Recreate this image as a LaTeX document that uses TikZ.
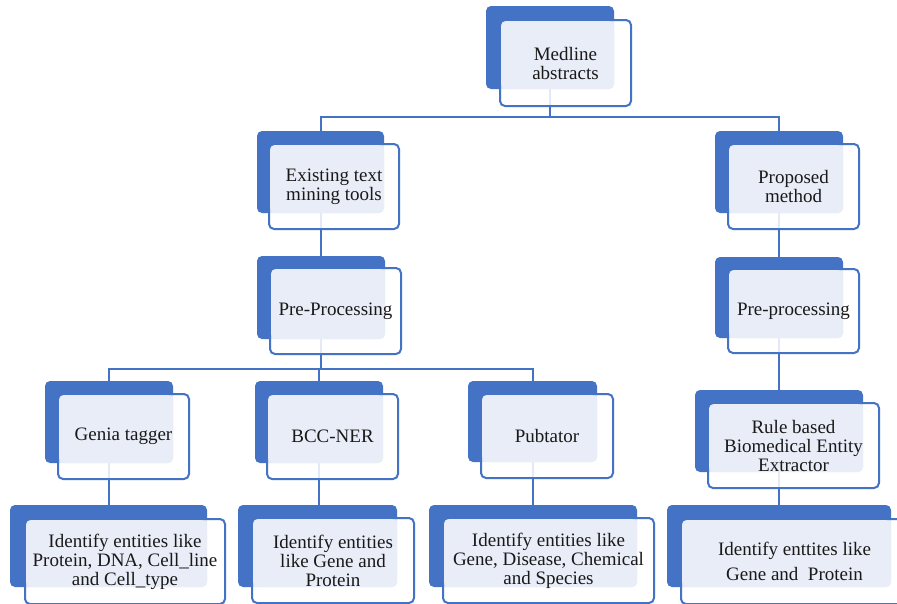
\documentclass[tikz,border=0pt]{standalone}
\usepackage{fontspec}
\setmainfont{Liberation Serif}
\newfontfamily\tnr{Liberation Serif}
\usetikzlibrary{backgrounds}
\definecolor{ablue}{HTML}{4472C4}
\definecolor{alight}{HTML}{E9EDF7}
\tikzset{
  backbox/.style={fill=ablue, rounded corners=5pt, inner sep=0pt, outer sep=0pt, draw=none},
  frontbox/.style={fill=white, fill opacity=.85, draw=ablue, draw opacity=1, line width=2pt, rounded corners=5pt, inner sep=0pt, outer sep=0pt},
  lightfill/.style={fill=alight},
  txt/.style={font=\tnr\fontsize{19}{19}\selectfont, align=center, inner sep=0pt, text=black!90},
  conn/.style={draw=ablue, line width=2pt},
}
% name, back NW x, back NW y, width, height, text, dx, dy
\newcommand\twinbox[8]{%
  \node[backbox, minimum width=#4pt, minimum height=#5pt, anchor=north west] (#1B) at (#2,#3) {};
  \node[frontbox, minimum width={#4pt+3pt}, minimum height={#5pt+3pt}, anchor=north west] (#1) at ([shift={(#7,#8)}]#1B.north west) {};
  \fill[lightfill, rounded corners=5pt] ([shift={(1.2,1.2)}]#1.north west) rectangle (#1B.south east);
  \node[txt] (#1T) at (#1.center) {#6};
}
\begin{document}
\begin{tikzpicture}[x=1pt, y=-1pt]
  \useasboundingbox (0,0) rectangle (897,603);
  \clip (0,0) rectangle (897,603);
  \twinbox{med}{486}{6}{128}{83}{Medline\\abstracts}{14}{14}
  \twinbox{exist}{257}{131}{127}{82}{Existing text\\mining tools}{12}{13}
  \twinbox{prop}{715}{131}{128}{82}{Proposed\\method}{13}{13}
  \twinbox{preA}{257}{256}{128}{83}{Pre-Processing}{13}{12}
  \twinbox{preB}{715}{257}{128}{81}{Pre-processing}{13}{12}
  \twinbox{genia}{45}{381}{128}{82}{Genia tagger}{13}{13}
  \twinbox{bcc}{255}{381}{128}{82}{BCC-NER}{12}{13}
  \twinbox{pub}{468}{381}{129}{81}{Pubtator}{13}{13}
  \twinbox{rule}{695}{390}{168}{82}{Rule based\\Biomedical Entity\\Extractor}{13}{13}
  \twinbox{ra}{10}{505}{197}{82}{Identify entities like\\Protein, DNA, Cell\_line\\and Cell\_type}{15}{14}
  \twinbox{rb}{238}{505}{159}{82}{Identify entities\\like Gene and\\Protein}{14}{13}
  \twinbox{rc}{429}{505}{208}{82}{Identify entities like\\Gene, Disease, Chemical\\and Species}{14}{13}
  \twinbox{rd}{667}{505}{224}{82}{Identify enttites like\\[6pt]Gene and\ \ Protein}{14}{14}
  \coordinate (j1) at (0,117);
  \coordinate (j2) at (0,369);
  \begin{scope}[on background layer]
    \fill[white] (0,0) rectangle (897,603);
    \draw[conn] (medB.center) -- (medB.center |- j1);
    \draw[conn] (existB.center) |- (medB.center |- j1) -| (propB.center);
    \draw[conn] (existB.center) -- (existB.center |- preAB.center);
    \draw[conn] (propB.center) -- (propB.center |- preBB.center);
    \draw[conn] (preBB.center) -- (preBB.center |- ruleB.center);
    \draw[conn] (preAB.center) -- (preAB.center |- j2);
    \draw[conn] (geniaB.center) |- (preAB.center |- j2) -| (pubB.center);
    \draw[conn] (bccB.center) -- (bccB.center |- j2);
    \draw[conn] (geniaB.center) -- (geniaB.center |- raB.center);
    \draw[conn] (bccB.center) -- (bccB.center |- rbB.center);
    \draw[conn] (pubB.center) -- (pubB.center |- rcB.center);
    \draw[conn] (ruleB.center) -- (ruleB.center |- rdB.center);
  \end{scope}
\end{tikzpicture}
\end{document}
